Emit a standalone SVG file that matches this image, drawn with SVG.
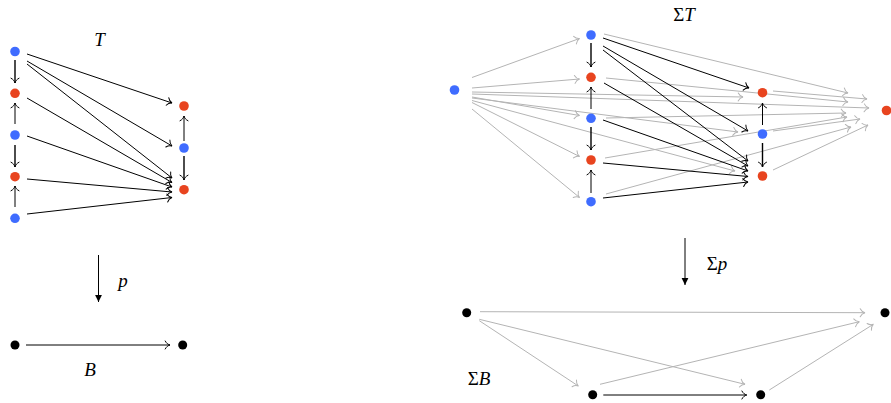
<svg xmlns="http://www.w3.org/2000/svg" width="891" height="403" viewBox="0 0 891 403">
<defs>
<marker id="to" markerUnits="userSpaceOnUse" markerWidth="14" markerHeight="14" viewBox="-7 -7 14 14" refX="0" refY="0" orient="auto" overflow="visible">
<path d="M -4.8,-4 C -3.6,-1.6 -1.6,-0.4 0,0 C -1.6,0.4 -3.6,1.6 -4.8,4" fill="none" stroke="#000" stroke-width="1" stroke-linecap="round"/>
</marker>
<marker id="tog" markerUnits="userSpaceOnUse" markerWidth="14" markerHeight="14" viewBox="-7 -7 14 14" refX="0" refY="0" orient="auto" overflow="visible">
<path d="M -4.8,-4 C -3.6,-1.6 -1.6,-0.4 0,0 C -1.6,0.4 -3.6,1.6 -4.8,4" fill="none" stroke="#b4b4b4" stroke-width="1" stroke-linecap="round"/>
</marker>
<marker id="tri" markerUnits="userSpaceOnUse" markerWidth="12" markerHeight="12" viewBox="-10 -6 12 12" refX="0" refY="0" orient="auto" overflow="visible">
<path d="M -7,-3.4 L 0,0 L -7,3.4 Z" fill="#000"/>
</marker>
</defs>
<style>
.b{fill:#3f6cff}
.r{fill:#e8441f}
.k{fill:#000}
.e{fill:none;stroke:#000;stroke-width:1;marker-end:url(#to)}
.d{stroke-width:1.4}
.g{fill:none;stroke:#b4b4b4;stroke-width:1;marker-end:url(#tog)}
.p{fill:none;stroke:#000;stroke-width:1;marker-end:url(#tri)}
text{font-family:"Liberation Serif","Times New Roman",serif;font-size:19px;fill:#000;text-anchor:middle}
.i{font-style:italic}
</style>

<g id="connectors">
<line class="e d" x1="15" y1="60" x2="15" y2="83"/>
<line class="e" x1="15" y1="124" x2="15" y2="103"/>
<line class="e d" x1="15" y1="145" x2="15" y2="167"/>
<line class="e" x1="15" y1="207" x2="15" y2="186"/>
<line class="e" x1="184" y1="141" x2="184" y2="116"/>
<line class="e d" x1="184" y1="156" x2="184" y2="180"/>
<line class="e" x1="27" y1="54" x2="172" y2="103"/>
<line class="e" x1="27" y1="61" x2="172" y2="146"/>
<line class="e" x1="27" y1="64" x2="172" y2="178"/>
<line class="e" x1="27" y1="98" x2="172" y2="182.5"/>
<line class="e" x1="27" y1="136" x2="172" y2="187"/>
<line class="e" x1="27" y1="179" x2="172" y2="192"/>
<line class="e" x1="27" y1="214" x2="172" y2="197.5"/>
<line class="p" x1="98.5" y1="255" x2="98.5" y2="302"/>
<line class="e" x1="26" y1="345" x2="170" y2="345"/>
<line class="p" x1="685" y1="238" x2="685" y2="285"/>

<line class="g" x1="472" y1="77.5" x2="579.5" y2="38.5"/>
<line class="g" x1="472" y1="88" x2="579.5" y2="79"/>
<line class="g" x1="472" y1="97" x2="579.5" y2="115.5"/>
<line class="g" x1="472" y1="102.5" x2="579.5" y2="156.5"/>
<line class="g" x1="472" y1="109" x2="579.5" y2="197.5"/>
<line class="g" x1="472" y1="92" x2="743" y2="97"/>
<line class="g" x1="472" y1="98" x2="738" y2="132"/>
<line class="g" x1="472" y1="100.5" x2="735" y2="171"/>
<line class="g" x1="472" y1="94" x2="869" y2="108"/>
<line class="g" x1="604" y1="34" x2="848" y2="93"/>
<line class="g" x1="606" y1="78" x2="848" y2="102"/>
<line class="g" x1="606" y1="118" x2="846" y2="113"/>
<line class="g" x1="605" y1="158" x2="847" y2="117"/>
<line class="g" x1="606" y1="194" x2="851" y2="127"/>
<line class="g" x1="773" y1="91" x2="867" y2="99"/>
<line class="g" x1="773" y1="131" x2="860" y2="119"/>
<line class="g" x1="773" y1="170" x2="868" y2="125"/>
<line class="e d" x1="591" y1="43" x2="591" y2="67"/>
<line class="e" x1="591" y1="109" x2="591" y2="87"/>
<line class="e d" x1="591" y1="127" x2="591" y2="150"/>
<line class="e" x1="591" y1="193" x2="591" y2="170"/>
<line class="e" x1="762.5" y1="125" x2="762.5" y2="103"/>
<line class="e d" x1="762.5" y1="143" x2="762.5" y2="167"/>
<line class="e" x1="603" y1="38" x2="749" y2="88"/>
<line class="e" x1="603" y1="46" x2="748" y2="131"/>
<line class="e" x1="603" y1="50" x2="748" y2="161"/>
<line class="e" x1="604" y1="83" x2="748" y2="166"/>
<line class="e" x1="603" y1="120" x2="748" y2="171"/>
<line class="e" x1="603" y1="163" x2="748" y2="176.5"/>
<line class="e" x1="603" y1="198" x2="748" y2="182"/>

<line class="g" x1="480" y1="311.7" x2="865" y2="312.7"/>
<line class="g" x1="479.3" y1="320.7" x2="578.3" y2="386"/>
<line class="g" x1="479.3" y1="319.3" x2="745" y2="384.3"/>
<line class="g" x1="600" y1="384.3" x2="859.3" y2="321.7"/>
<line class="g" x1="769.3" y1="390" x2="873.3" y2="324.3"/>
<line class="e" x1="603.3" y1="395" x2="746.7" y2="395"/>
</g>

<g id="T">
<circle id="t1" class="b" cx="15" cy="51.5" r="4.8"/>
<circle id="t2" class="r" cx="15" cy="93.3" r="4.8"/>
<circle id="t3" class="b" cx="15" cy="135" r="4.8"/>
<circle id="t4" class="r" cx="15" cy="176.7" r="4.8"/>
<circle id="t5" class="b" cx="15" cy="218.3" r="4.8"/>
<circle id="t6" class="r" cx="184" cy="106" r="4.8"/>
<circle id="t7" class="b" cx="184" cy="148" r="4.8"/>
<circle id="t8" class="r" cx="184" cy="189.7" r="4.8"/>
<text class="i" x="99.5" y="46">T</text>
</g>

<g id="B">
<circle id="b1" class="k" cx="15" cy="345" r="4.5"/>
<circle id="b2" class="k" cx="182.7" cy="345" r="4.5"/>
<text class="i" x="90" y="376">B</text>
</g>

<g id="p-label"><text class="i" x="123" y="287">p</text></g>
<g id="sp-label"><text x="717" y="270">Σ<tspan class="i">p</tspan></text></g>

<g id="SigmaT">
<circle id="sL" class="b" cx="454.5" cy="90" r="4.8"/>
<circle id="s1" class="b" cx="591" cy="35" r="4.8"/>
<circle id="s2" class="r" cx="591" cy="77.3" r="4.8"/>
<circle id="s3" class="b" cx="591" cy="118.3" r="4.8"/>
<circle id="s4" class="r" cx="591" cy="160" r="4.8"/>
<circle id="s5" class="b" cx="591" cy="201.7" r="4.8"/>
<circle id="s6" class="r" cx="762.5" cy="92.7" r="4.8"/>
<circle id="s7" class="b" cx="762.5" cy="134" r="4.8"/>
<circle id="s8" class="r" cx="762.5" cy="176" r="4.8"/>
<circle id="sR" class="r" cx="886.5" cy="110.5" r="4.8"/>
<text x="684" y="21">Σ<tspan class="i">T</tspan></text>
</g>

<g id="SigmaB">
<circle id="sb1" class="k" cx="466.7" cy="312.7" r="4.5"/>
<circle id="sb2" class="k" cx="592.7" cy="394.7" r="4.5"/>
<circle id="sb3" class="k" cx="760.7" cy="394.7" r="4.5"/>
<circle id="sb4" class="k" cx="885" cy="312.7" r="4.5"/>
<text x="479" y="385">Σ<tspan class="i">B</tspan></text>
</g>
</svg>
